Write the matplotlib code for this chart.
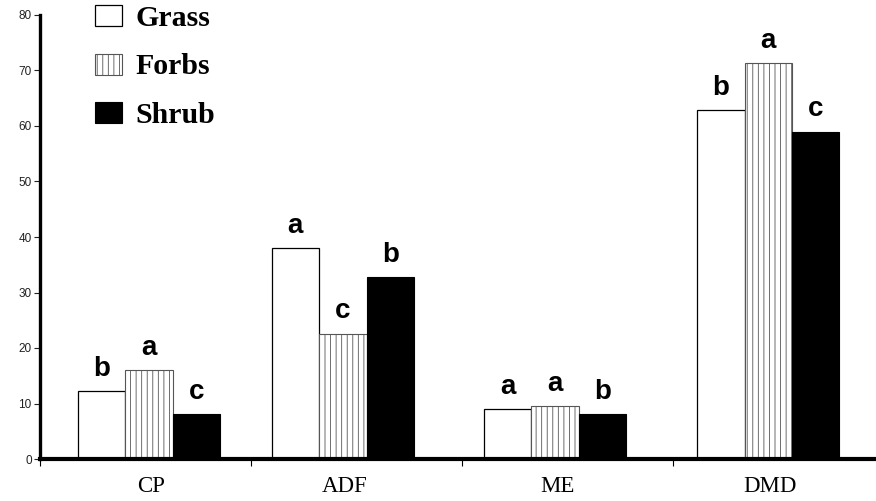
import numpy as np
import matplotlib
matplotlib.use("Agg")
import matplotlib.pyplot as plt
from matplotlib.patches import Patch

categories = ["CP", "ADF", "ME", "DMD"]
species = ["Grass", "Forbs", "Shrub"]
grass = [12.2, 38.0, 9.0, 62.9]
forbs = [16.0, 22.6, 9.5, 71.3]
shrub = [8.1, 32.8, 8.1, 59.0]
grass_letters = ["b", "a", "a", "b"]
forbs_letters = ["a", "c", "a", "a"]
shrub_letters = ["c", "b", "b", "c"]
yticks = [0, 10, 20, 30, 40, 50, 60, 70, 80]

plt.rcParams["hatch.linewidth"] = 0.6
plt.rcParams["hatch.color"] = "#333333"

fig = plt.figure(figsize=(8.76, 5.01), dpi=100)
ax = fig.add_axes([40 / 876, 42 / 501, 836 / 876, 444 / 501])

# left edge of first bar in each group (category units)
group_left = np.array([0.18, 1.098, 2.104, 3.114])
w = 0.225

styles = [
    dict(facecolor="white", edgecolor="black", linewidth=0.9),
    dict(facecolor="white", edgecolor="#555555", linewidth=0.8, hatch="|||"),
    dict(facecolor="black", edgecolor="black", linewidth=0.8),
]
series = [grass, forbs, shrub]
letters = [grass_letters, forbs_letters, shrub_letters]

for i, (vals, st, lets) in enumerate(zip(series, styles, letters)):
    xs = group_left + w * i + w / 2
    ax.bar(xs, vals, width=w, zorder=2, **st)
    for x, v, t in zip(xs, vals, lets):
        ax.annotate(t, (x, v), xytext=(0, 11), textcoords="offset points",
                    ha="center", va="baseline", fontsize=20, fontweight="bold",
                    family="Liberation Sans")

ax.set_xlim(0, 836 / 211)
ax.set_ylim(0, 80)
ax.set_yticks(yticks)
ax.set_xticks([0, 1, 2, 3])
ax.set_xticklabels([])
for x, c in zip(group_left + 1.5 * w, categories):
    ax.text(x + 0.01, -0.063, c, transform=ax.get_xaxis_transform(),
            ha="center", va="center", fontsize=16.5, family="Liberation Serif")

for s in ["top", "right"]:
    ax.spines[s].set_visible(False)
ax.spines["left"].set_linewidth(2.4)
ax.spines["bottom"].set_linewidth(3.0)
ax.spines["left"].set_zorder(3)
ax.spines["bottom"].set_zorder(3)
ax.tick_params(axis="y", length=4, width=0.8, labelsize=8.5, pad=2,
               colors="#222222", labelcolor="#222222")
ax.tick_params(axis="x", length=5, width=0.8, direction="out")
for lab in ax.get_yticklabels():
    lab.set_family("Liberation Sans")

handles = [Patch(**styles[0]), Patch(**styles[1]), Patch(**styles[2])]
fig.legend(handles, species, loc="upper left",
           bbox_to_anchor=(95 / 876, 1 - 5 / 501), frameon=False,
           borderaxespad=0, borderpad=0, handlelength=0.9, handleheight=0.7,
           handletextpad=0.45, labelspacing=0.72,
           prop=dict(family="Liberation Serif", weight="bold", size=21.5))

fig.savefig("out.png", dpi=100)
